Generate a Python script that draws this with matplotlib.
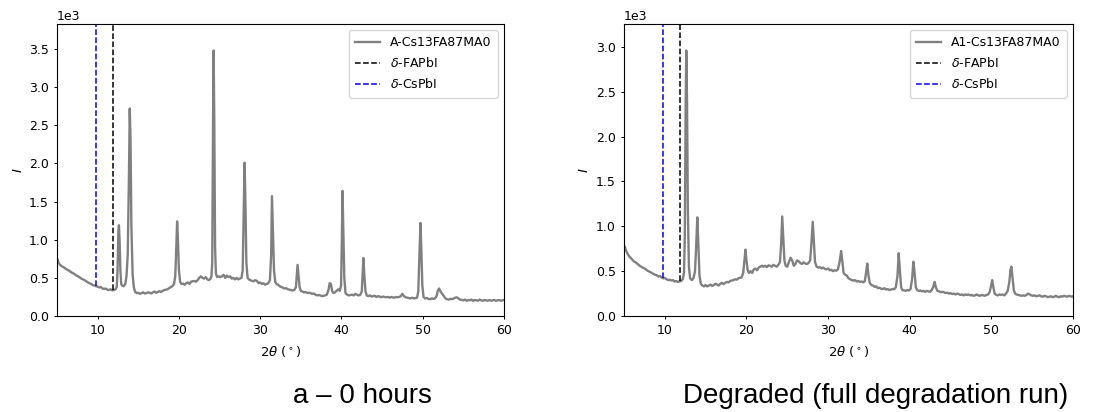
import numpy as np
import matplotlib
matplotlib.use("Agg")
import matplotlib.pyplot as plt

# ---------------- data ----------------
# Left panel: A-Cs13FA87MA0 (0 hours)
two_theta_a = [
    5.0, 5.1, 5.2, 5.4, 5.6, 5.8, 6.0, 6.2, 6.4, 6.6, 6.8, 7.0, 7.2, 7.4, 7.6, 7.8, 8.0, 8.2, 8.4, 8.6,
    8.8, 9.0, 9.2, 9.4, 9.6, 9.8, 10.0, 10.2, 10.4, 10.6, 10.8, 11.0, 11.2, 11.4, 11.6, 11.8, 12.0, 12.2,
    12.35, 12.45, 12.55, 12.62, 12.7, 12.8, 12.9, 13.0, 13.2, 13.4, 13.55, 13.7, 13.85, 13.95, 14.05,
    14.15, 14.3, 14.45, 14.6, 14.8, 15.0, 15.2, 15.4, 15.6, 15.8, 16.0, 16.2, 16.4, 16.6, 16.8, 17.0,
    17.2, 17.4, 17.6, 17.8, 18.0, 18.2, 18.4, 18.6, 18.8, 19.0, 19.2, 19.4, 19.55, 19.68, 19.78, 19.88,
    20.0, 20.15, 20.3, 20.5, 20.7, 20.9, 21.1, 21.3, 21.5, 21.7, 21.9, 22.1, 22.3, 22.5, 22.7, 22.9,
    23.1, 23.3, 23.5, 23.7, 23.9, 24.0, 24.1, 24.2, 24.27, 24.35, 24.45, 24.55, 24.7, 24.9, 25.1, 25.3,
    25.5, 25.7, 25.9, 26.1, 26.3, 26.5, 26.7, 26.9, 27.1, 27.3, 27.5, 27.7, 27.85, 27.98, 28.08, 28.18,
    28.3, 28.45, 28.6, 28.8, 29.0, 29.2, 29.4, 29.6, 29.8, 30.0, 30.2, 30.4, 30.6, 30.8, 31.0, 31.2,
    31.35, 31.45, 31.55, 31.7, 31.85, 32.0, 32.2, 32.4, 32.6, 32.8, 33.0, 33.2, 33.4, 33.6, 33.8, 34.0,
    34.2, 34.4, 34.52, 34.6, 34.7, 34.85, 35.0, 35.2, 35.4, 35.6, 35.8, 36.0, 36.2, 36.4, 36.6, 36.8,
    37.0, 37.2, 37.4, 37.6, 37.8, 38.0, 38.2, 38.4, 38.55, 38.7, 38.85, 39.0, 39.2, 39.4, 39.6, 39.8,
    39.95, 40.05, 40.13, 40.22, 40.35, 40.5, 40.7, 40.9, 41.1, 41.3, 41.5, 41.7, 41.9, 42.1, 42.3, 42.5,
    42.6, 42.7, 42.8, 42.95, 43.1, 43.3, 43.5, 43.7, 43.9, 44.1, 44.3, 44.5, 44.7, 44.9, 45.1, 45.3,
    45.5, 45.7, 45.9, 46.1, 46.3, 46.5, 46.7, 46.9, 47.1, 47.3, 47.5, 47.7, 47.9, 48.1, 48.3, 48.5,
    48.7, 48.9, 49.1, 49.3, 49.45, 49.6, 49.72, 49.82, 49.95, 50.1, 50.3, 50.5, 50.7, 50.9, 51.1, 51.3,
    51.5, 51.7, 51.85, 52.0, 52.2, 52.4, 52.6, 52.8, 53.0, 53.2, 53.4, 53.6, 53.8, 54.0, 54.2, 54.4,
    54.6, 54.8, 55.0, 55.2, 55.4, 55.6, 55.8, 56.0, 56.2, 56.4, 56.6, 56.8, 57.0, 57.2, 57.4, 57.6,
    57.8, 58.0, 58.2, 58.4, 58.6, 58.8, 59.0, 59.2, 59.4, 59.6, 59.8, 60.0,
]
intensity_a = [
    700, 740, 690, 670, 650, 640, 625, 610, 600, 585, 570, 560, 545, 530, 520, 505, 490, 480, 470, 455,
    440, 430, 420, 405, 400, 390, 385, 375, 380, 360, 355, 360, 345, 340, 350, 335, 340, 350,
    380, 600, 1100, 1190, 1000, 600, 420, 400, 390, 420, 520, 800, 1800, 2720, 2300,
    1200, 550, 380, 320, 300, 305, 290, 300, 310, 295, 300, 310, 305, 295, 310, 320,
    305, 315, 325, 315, 330, 340, 345, 350, 365, 380, 390, 420, 520, 900, 1240, 1000,
    600, 450, 420, 425, 410, 430, 440, 420, 450, 455, 460, 450, 470, 500, 520, 500,
    490, 510, 480, 470, 490, 520, 700, 2500, 3480, 2600, 900, 560, 510, 520, 510, 520,
    540, 500, 530, 510, 520, 490, 500, 480, 500, 480, 490, 500, 600, 1400, 2010, 1500,
    700, 500, 480, 470, 460, 455, 470, 460, 430, 440, 420, 430, 410, 420, 430, 470,
    800, 1570, 1200, 600, 450, 420, 410, 390, 380, 370, 360, 365, 350, 345, 340, 335,
    340, 380, 550, 670, 560, 380, 330, 320, 310, 315, 300, 305, 300, 290, 295, 280,
    270, 275, 270, 260, 265, 270, 280, 340, 430, 420, 330, 300, 310, 330, 350, 330,
    400, 1000, 1640, 1200, 500, 300, 280, 270, 275, 280, 270, 290, 280, 270, 275, 320,
    550, 760, 560, 330, 270, 260, 270, 255, 260, 265, 250, 260, 255, 245, 255, 250,
    245, 250, 240, 250, 245, 240, 250, 245, 250, 260, 290, 260, 245, 240, 235, 230,
    240, 230, 235, 240, 320, 800, 1220, 900, 400, 250, 230, 235, 225, 220, 230, 225,
    230, 260, 330, 360, 320, 290, 260, 230, 220, 215, 225, 220, 230, 240, 245, 230,
    215, 210, 205, 215, 200, 210, 205, 215, 200, 210, 205, 200, 215, 205, 200, 210,
    205, 200, 210, 200, 205, 210, 200, 205, 210, 200, 205, 210,
]

# Right panel: A1-Cs13FA87MA0 (degraded)
two_theta_b = [
    5.0, 5.1, 5.2, 5.4, 5.6, 5.8, 6.0, 6.2, 6.4, 6.6, 6.8, 7.0, 7.2, 7.4, 7.6, 7.8, 8.0, 8.2, 8.4, 8.6,
    8.8, 9.0, 9.2, 9.4, 9.6, 9.8, 10.0, 10.2, 10.4, 10.6, 10.8, 11.0, 11.2, 11.4, 11.6, 11.8, 12.0, 12.2,
    12.35, 12.45, 12.55, 12.63, 12.72, 12.82, 12.95, 13.1, 13.3, 13.5, 13.7, 13.85, 13.98, 14.1, 14.25,
    14.4, 14.6, 14.8, 15.0, 15.2, 15.4, 15.6, 15.8, 16.0, 16.2, 16.4, 16.6, 16.8, 17.0, 17.2, 17.4,
    17.6, 17.8, 18.0, 18.2, 18.4, 18.6, 18.8, 19.0, 19.2, 19.4, 19.6, 19.75, 19.88, 20.0, 20.15, 20.3,
    20.5, 20.7, 20.9, 21.1, 21.3, 21.5, 21.7, 21.9, 22.1, 22.3, 22.5, 22.7, 22.9, 23.1, 23.3, 23.5,
    23.7, 23.9, 24.1, 24.25, 24.38, 24.5, 24.65, 24.8, 25.0, 25.2, 25.4, 25.6, 25.8, 26.0, 26.2, 26.4,
    26.6, 26.8, 27.0, 27.2, 27.4, 27.6, 27.8, 27.95, 28.12, 28.25, 28.4, 28.6, 28.8, 29.0, 29.2, 29.4,
    29.6, 29.8, 30.0, 30.2, 30.4, 30.6, 30.8, 31.0, 31.2, 31.4, 31.6, 31.75, 31.9, 32.1, 32.3, 32.5,
    32.7, 32.9, 33.1, 33.3, 33.5, 33.7, 33.9, 34.1, 34.3, 34.5, 34.65, 34.8, 34.95, 35.1, 35.3, 35.5,
    35.7, 35.9, 36.1, 36.3, 36.5, 36.7, 36.9, 37.1, 37.3, 37.5, 37.7, 37.9, 38.1, 38.3, 38.5, 38.65,
    38.8, 38.95, 39.1, 39.3, 39.5, 39.7, 39.9, 40.1, 40.3, 40.45, 40.6, 40.75, 40.9, 41.1, 41.3, 41.5,
    41.7, 41.9, 42.1, 42.3, 42.5, 42.7, 42.9, 43.05, 43.2, 43.4, 43.6, 43.8, 44.0, 44.2, 44.4, 44.6,
    44.8, 45.0, 45.2, 45.4, 45.6, 45.8, 46.0, 46.2, 46.4, 46.6, 46.8, 47.0, 47.2, 47.4, 47.6, 47.8,
    48.0, 48.2, 48.4, 48.6, 48.8, 49.0, 49.2, 49.4, 49.6, 49.8, 49.95, 50.1, 50.25, 50.4, 50.6, 50.8,
    51.0, 51.2, 51.4, 51.6, 51.8, 52.0, 52.2, 52.35, 52.45, 52.6, 52.75, 52.9, 53.1, 53.3, 53.5, 53.7,
    53.9, 54.1, 54.3, 54.5, 54.7, 54.9, 55.1, 55.3, 55.5, 55.7, 55.9, 56.1, 56.3, 56.5, 56.7, 56.9,
    57.1, 57.3, 57.5, 57.7, 57.9, 58.1, 58.3, 58.5, 58.7, 58.9, 59.1, 59.3, 59.5, 59.7, 59.9, 60.0,
]
intensity_b = [
    760, 775, 740, 700, 670, 650, 630, 610, 600, 585, 570, 555, 545, 535, 525, 510, 500, 490, 480, 470,
    460, 455, 440, 445, 430, 420, 425, 410, 400, 405, 395, 400, 385, 390, 380, 385, 390, 410,
    480, 900, 2300, 2960, 2400, 1200, 550, 420, 400, 420, 500, 800, 1100, 800, 450,
    360, 340, 330, 345, 330, 340, 350, 335, 345, 360, 350, 340, 360, 370, 355, 370,
    380, 375, 390, 395, 400, 410, 405, 420, 425, 430, 480, 620, 740, 620, 510, 480,
    500, 480, 520, 530, 510, 540, 550, 560, 550, 560, 545, 565, 560, 550, 570, 560,
    550, 570, 600, 800, 1110, 900, 620, 560, 550, 600, 650, 620, 560, 580, 620, 610,
    590, 580, 600, 585, 580, 590, 620, 800, 1050, 850, 600, 550, 540, 545, 530, 540,
    525, 520, 530, 510, 515, 500, 510, 505, 520, 600, 725, 600, 480, 460, 450, 420,
    410, 400, 395, 400, 385, 390, 380, 385, 375, 390, 480, 585, 450, 370, 345, 340,
    325, 330, 310, 315, 305, 300, 310, 295, 300, 290, 295, 300, 300, 320, 450, 700,
    500, 320, 290, 285, 280, 290, 285, 300, 420, 605, 480, 320, 290, 280, 285, 275,
    280, 270, 280, 275, 270, 290, 330, 380, 320, 280, 275, 265, 270, 265, 255, 260,
    250, 255, 245, 250, 240, 250, 245, 235, 240, 230, 240, 235, 240, 230, 235, 225,
    230, 240, 230, 225, 235, 230, 225, 235, 240, 270, 330, 400, 320, 250, 235, 230,
    240, 235, 240, 230, 250, 280, 380, 520, 550, 420, 290, 250, 240, 235, 230, 225,
    230, 225, 235, 250, 240, 230, 225, 230, 220, 225, 230, 220, 215, 225, 220, 210,
    215, 220, 210, 215, 225, 215, 210, 220, 215, 225, 220, 215, 225, 220, 215, 220,
]

panel_labels = ["A-Cs13FA87MA0", "A1-Cs13FA87MA0"]
captions = ["a \u2013 0 hours", "Degraded (full degradation run)"]
ref_positions = [11.85, 9.8]          # delta-FAPbI, delta-CsPbI
ref_labels = [r"$\delta$-FAPbI", r"$\delta$-CsPbI"]
ref_colors = ["black", "blue"]
xlim = (5, 60)

# ---------------- plot ----------------
W, H = 1119, 412
fig = plt.figure(figsize=(W / 100, H / 100), dpi=100)

axes_rects = [
    [57 / W, (H - 316) / H, 447 / W, 292 / H],
    [624 / W, (H - 316) / H, 449 / W, 292 / H],
]
caption_x = [362 / W, 876 / W]

datasets = [(two_theta_a, intensity_a), (two_theta_b, intensity_b)]
FS = 9

for i, (tt, inten) in enumerate(datasets):
    ax = fig.add_axes(axes_rects[i])
    tt = np.asarray(tt, dtype=float)
    inten = np.asarray(inten, dtype=float)
    top = 1.1 * inten.max()
    ax.plot(tt, inten, color="gray", lw=1.7, label=panel_labels[i])
    for xpos, lab, col in zip(ref_positions, ref_labels, ref_colors):
        y0 = np.interp(xpos, tt, inten)
        ax.plot([xpos, xpos], [y0, top], ls="--", color=col, lw=1.1, label=lab)
    ax.set_xlim(*xlim)
    ax.set_ylim(0, top)
    ax.ticklabel_format(axis="y", style="sci", scilimits=(3, 3))
    ax.yaxis.get_offset_text().set_fontsize(FS)
    ax.tick_params(labelsize=FS, length=2.5, width=0.7)
    for s in ax.spines.values():
        s.set_linewidth(0.8)
    ax.set_xlabel(r"$2\theta$ ($^\circ$)", fontsize=FS + 0.5, labelpad=5)
    ax.set_ylabel(r"$I$", fontsize=FS + 0.5, labelpad=3)
    ax.legend(loc="upper right", fontsize=FS, framealpha=0.8, handlelength=2.0,
              borderpad=0.5, labelspacing=0.55)
    fig.text(caption_x[i], 1 - 403 / H, captions[i], ha="center", va="baseline",
             fontsize=20, family="Liberation Sans")

fig.savefig("out.png", dpi=100)
